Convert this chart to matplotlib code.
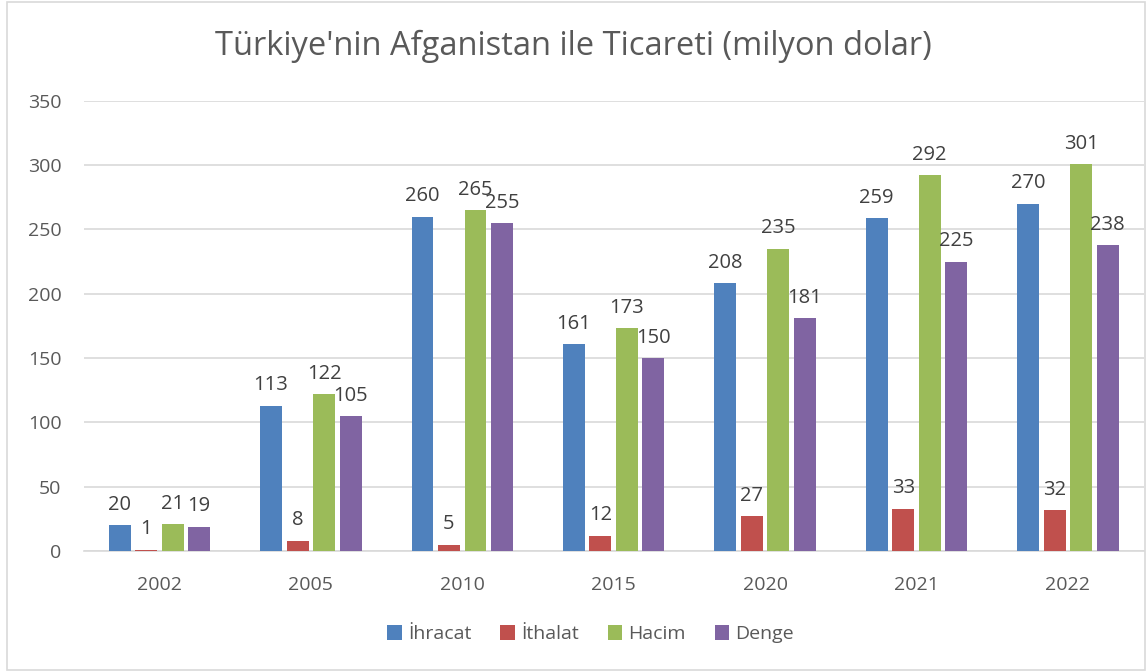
import numpy as np
import matplotlib.pyplot as plt
from matplotlib.patches import Rectangle

# veriler
years = ['2002', '2005', '2010', '2015', '2020', '2021', '2022']
ihracat = [20, 113, 260, 161, 208, 259, 270]
ithalat = [1, 8, 5, 12, 27, 33, 32]
hacim = [21, 122, 265, 173, 235, 292, 301]
denge = [19, 105, 255, 150, 181, 225, 238]

series = [('İhracat', ihracat, '#4F81BD'),
          ('İthalat', ithalat, '#C0504D'),
          ('Hacim', hacim, '#9BBB59'),
          ('Denge', denge, '#8064A2')]

plt.rcParams['font.family'] = ['Open Sans', 'DejaVu Sans']

fig = plt.figure(figsize=(11.47, 6.72), dpi=100)
fig.patches.append(Rectangle((0.006, 0.003), 0.992, 0.994, transform=fig.transFigure,
                             fill=False, edgecolor='#D9D9D9', linewidth=1.2))
ax = fig.add_axes([0.073, 0.18, 0.924, 0.67])

x = np.arange(len(years))
w = 0.145
step = 0.175
for i, (name, vals, col) in enumerate(series):
    pos = x + (i - 1.5) * step
    bars = ax.bar(pos, vals, width=w, color=col, label=name, zorder=3)
    for b, v in zip(bars, vals):
        ax.text(b.get_x() + b.get_width() / 2, v + 8, str(v), ha='center', va='bottom',
                fontsize=14.5, color='#404040')

ax.set_xlim(-0.5, len(years) - 0.5)
ax.set_ylim(0, 350)
ax.set_yticks(range(0, 351, 50))
ax.set_xticks(x)
ax.set_xticklabels(years)
ax.yaxis.grid(True, color='#D9D9D9', linewidth=1.2, zorder=0)
for s in ['top', 'right', 'left']:
    ax.spines[s].set_visible(False)
ax.spines['bottom'].set_color('#D9D9D9')
ax.spines['bottom'].set_linewidth(1.2)
ax.tick_params(axis='both', length=0, labelsize=14, colors='#595959')
ax.tick_params(axis='y', pad=16)
ax.tick_params(axis='x', pad=18)

fig.suptitle("Türkiye'nin Afganistan ile Ticareti (milyon dolar)", y=0.955,
             fontsize=23.5, color='#595959')
fig.legend(loc='center', bbox_to_anchor=(0.515, 0.056), ncol=4, frameon=False,
           fontsize=14, labelcolor='#595959', handlelength=0.75, handleheight=0.75,
           handletextpad=0.3, columnspacing=1.5)

plt.savefig('out.png', dpi=100)
